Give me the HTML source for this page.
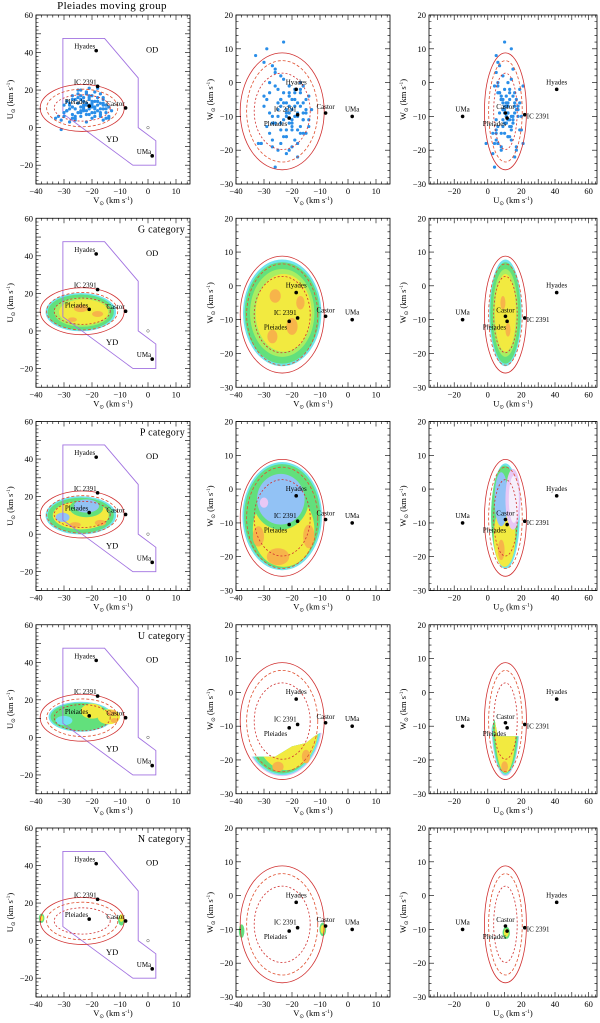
<!DOCTYPE html>
<html><head><meta charset="utf-8"><style>
html,body{margin:0;padding:0;background:#fff;}
svg{display:block;font-family:"Liberation Serif",serif;}
</style></head><body>
<svg id="fig" width="600" height="1023" viewBox="0 0 600 1023" xmlns="http://www.w3.org/2000/svg"></svg>
<script>
// ----- data -----
const rowTitles = ["Pleiades moving group","G category","P category","U category","N category"];
const landmarkNames = ["Hyades","IC 2391","Pleiades","Castor","UMa"];
const landmarkV = [-18.5,-18,-21,-8,1.5];
const landmarkU = [41,22,11.5,10.5,-15];
const landmarkW = [-2,-9.5,-10.5,-9,-10];
const polyV = [-30.4,-15.5,-3.5,-3.5,2.8,2.8,-5.4,-30.4];
const polyU = [47.5,47.5,26.5,0,-7,-20,-20,7.5];
const ellCenter = [-23.5,10.5,-8.5]; // V,U,W
const ellOuter = [15,12.5,17.3];
const ellMiddle = [12.7,10,15];
const ellInner = [10,7,11.3];
const starV = [-33,-31,-30,-29,-28,-28,-27,-27,-26,-26,-25,-25,
-25,-24,-24,-24,-23,-23,-23,-22,-22,-22,-22,-21,
-21,-21,-20,-20,-20,-20,-19,-19,-19,-18,-18,-18,
-17,-17,-17,-16,-16,-16,-15,-15,-14,-14,-13,-31,
-29,-27,-26,-25,-24,-23,-22,-21,-20,-19,-18,-17,
-16,-15,-30,-28,-27,-26,-24,-23,-22,-21,-20,-19,
-18,-17,-16,-32,-30,-29,-28,-27,-25,-24,-23,-22,
-21,-20,-19,-18,-17,-16,-15,-14,-26,-24,-22,-21];
const starU = [5,4,6,9,3,12,7,15,10,5,18,8,
13,20,11,6,16,9,14,19,12,7,3,15,
10,21,17,8,13,5,19,11,14,9,16,12,
7,13,18,10,4,15,8,12,6,11,9,-1,
14,11,4,16,9,12,18,7,14,10,21,6,
13,5,8,10,17,6,15,11,9,17,12,8,
14,10,16,6,12,9,13,5,20,8,10,13,
16,11,6,14,8,12,10,5,15,17,19,12];
const starW = [8,-18,6,-5,-15,0,5,-10,-12,3,-8,-20,
-2,-14,-7,-18,-3,-11,1,-6,-16,-9,-21,-4,
-12,-1,-8,-19,-5,-14,-2,-10,-17,-6,-22,-9,
-3,-13,-7,-15,-1,-11,-5,-9,-13,-4,-8,-18,
10,-12,-25,-6,2,-16,-10,-3,-13,-7,-18,0,
-11,-15,-4,-9,-19,-1,-12,-6,-8,-20,-11,-5,
-14,-2,-9,-18,-7,-13,-3,-17,-10,-5,12,-16,
-7,-12,-3,-10,-15,-6,-8,-11,4,-5,-14,-9];

const C={cy:"#70e4ec",gr:"#62e07c",ye:"#f2ea40",or:"#f7b44a",bl:"#92c2f5",pk:"#e8c8f5",lg:"#a8ee62"};
const blobs = {
 "1-0":[[-24,10,12.6,10.2,C.cy],[-24,10,11.8,9.4,C.gr],[-23.5,10,10,7.8,C.lg],[-23,10,8.8,6.8,C.ye],[-24,12,2.5,2,C.or],[-18,9,2,1.6,C.or],[-27,6,1.6,1.2,C.or]],
 "1-1":[[-23.5,-8,14,15.8,C.cy],[-23.5,-8,13.4,15,C.gr],[-23.5,-8,11.5,13,C.lg],[-23,-8,10,11.5,C.ye],[-26,-3,2,2,C.or],[-20,-12,2,2.5,C.or],[-27,-15,1.8,2,C.or],[-17,-5,1.5,2,C.or]],
 "1-2":[[10.5,-8,9.6,15.8,C.cy],[10.5,-8,9,15,C.gr],[10.5,-8,7.5,13,C.lg],[10.5,-8,6.3,11.5,C.ye],[9,-5,1.5,2,C.or],[12,-13,1.5,2,C.or]],
 "2-0":[[-24,10,12.6,10.2,C.cy],[-24,10,11.8,9.4,C.gr],[-24,10,10,7.5,C.ye],[-22,14,6,5,C.gr],[-22,15,4.5,3.5,C.bl],[-30.5,9,2.5,2.5,C.bl],[-17,6,2,1.6,C.or],[-26,5,2,1.4,C.or]],
 "2-1":[[-23.5,-8,14.2,16,C.cy],[-23.5,-8,13.6,15.4,C.gr],[-23,-12,11,11,C.ye],[-24,-3,10,9,C.gr],[-24,-3,8.5,7.5,C.bl],[-30,-4,1.5,1.5,C.pk],[-25,-20,4,2.5,C.or],[-14,-14,2,3.5,C.or],[-32,-14,2,3,C.or]],
 "2-2":[[10.5,-8,8.5,15.6,C.cy],[10,-8,8,15,C.gr],[10,-14,6.5,9,C.ye],[8,-3,4,8,C.bl],[15,-3,4.5,9,C.pk],[15.5,-3,3,7,"#f6effb"],[8,-18,2,3,C.or]]
};
const uClipV=[-40,-26,-20,-15,-12,-10,-4,-4,-40];
const uClipW=[-19,-19,-16,-15,-13,-12,-12,-30,-30];
const uClipU=[0,4,6,8,10,20,25,25,0];
const uClipW3=[-14,-8,-13,-13,-13,-13,-13,-30,-30];

const NS="http://www.w3.org/2000/svg";
const svg=document.getElementById('fig');
const colX=[[36,190],[236,390],[429,597]];
const colXR=[[-40,15],[-40,15],[-35,65]];
const colYR=[[-30,60],[-30,20],[-30,20]];
const xLab=["V","V","U"], yLab=["U","W","W"];
function mk(tag,attrs,parent){const e=document.createElementNS(NS,tag);for(const k in attrs)e.setAttribute(k,attrs[k]);(parent||svg).appendChild(e);return e;}

for(let r=0;r<5;r++){
 const top=15+r*203.25, bot=top+169;
 for(let c=0;c<3;c++){
  const [x0,x1]=colX[c],[xa,xb]=colXR[c],[ya,yb]=colYR[c];
  const sx=v=>x0+(v-xa)/(xb-xa)*(x1-x0);
  const sy=v=>bot-(v-ya)/(yb-ya)*(bot-top);
  const kx=(x1-x0)/(xb-xa), ky=(bot-top)/(yb-ya);
  const g=mk('g',{});
  
  
  const cid='clip'+r+c;
  const cp=mk('clipPath',{id:cid},g);mk('rect',{x:x0,y:top,width:x1-x0,height:bot-top},cp);
  const plot=mk('g',{'clip-path':'url(#'+cid+')'},g);
  const xi = c===2?1:0, yi = c===0?1:2;
  const lmX=[landmarkV,landmarkU][xi], lmY=[null,landmarkU,landmarkW][yi];
  const key=r+'-'+c;
  let bl=blobs[key];
  if(r===3){
   const clipId='uc'+c;
   const cp2=mk('clipPath',{id:clipId},g);
   if(c===0){ mk('rect',{x:x0,y:top,width:x1-x0,height:bot-top},cp2); bl=[[-24,11,11.5,8,C.cy],[-24,11,10.8,7.4,C.gr],[-20,14,4,4,C.ye],[-14,11,4,4,C.ye],[-13,13,1.5,1.5,C.or],[-12,9,1.3,1.3,C.or],[-30,9,3,2.5,C.cy]]; }
   else {
     const px=c===1?uClipV:uClipU, py=c===1?uClipW:uClipW3;
     mk('polygon',{points:px.map((v,i)=>sx(v)+','+sy(py[i])).join(' ')},cp2);
     bl= c===1?[[-23.5,-8,14.5,16.8,C.pk],[-23.5,-8.5,14,16,C.cy],[-23.5,-9,13.2,15,C.gr],[-22,-9.5,11.5,13.5,C.ye],[-25,-22,2,1.5,C.or],[-15,-19,1.5,2,C.or]]
              :[[10.5,-8,8.5,16.8,C.pk],[10.5,-8.5,8.2,16,C.cy],[10.5,-9,7.6,15,C.gr],[10.5,-10,6.2,13.8,C.ye],[10,-22,2,1.6,C.or]]; }
   const bg=mk('g',{'clip-path':'url(#'+clipId+')'},plot);
   bl.forEach(b=>{const e=mk('ellipse',{cx:sx(b[0]),cy:sy(b[1]),rx:b[2]*kx,ry:b[3]*ky,fill:b[4]},bg);
     });
   bl=null;
  }
  if(r===4){ bl = c===0?[[-38,12,1,2.5,C.gr],[-38,12,0.6,1.5,C.ye],[-9.5,11,1.2,3,C.gr],[-9.5,12,0.8,2,C.ye]]
     : c===1?[[-38,-10.5,1,2,C.gr],[-9,-10,1.2,2,C.gr],[-9,-10,0.8,1.3,C.ye]]
     :[[11,-11,2.2,1.8,C.gr],[11,-11,1.4,1.2,C.ye]]; }
  if(bl) bl.forEach(b=>{const e=mk('ellipse',{cx:sx(b[0]),cy:sy(b[1]),rx:b[2]*kx,ry:b[3]*ky,fill:b[4]},plot);
     });
  if(c===0){
   const pts=polyV.map((v,i)=>sx(v)+','+sy(polyU[i])).join(' ');
   const p=mk('polygon',{points:pts,fill:'none',stroke:'#a070e0','stroke-width':0.9},plot);
   
  }
  if(r===0){
   const xs=[starV,starU][xi], ys=[null,starU,starW][yi];
   xs.forEach((v,i)=>{const d=mk('circle',{cx:sx(v),cy:sy(ys[i]),r:1.6,fill:'#2a8ee8'},plot);
     });
  }
  const ex=ellCenter[xi], ey=ellCenter[yi];
  [[ellOuter,'#d03030',''],[ellMiddle,'#e05030','3,2'],[ellInner,'#d03030','2,2']].forEach(([s,col,da])=>{
   const e=mk('ellipse',{cx:sx(ex),cy:sy(ey),rx:s[xi]*kx,ry:s[yi]*ky,fill:'none',stroke:col,'stroke-width':0.8},plot);
   if(da)e.setAttribute('stroke-dasharray',da);
   
  });
  landmarkNames.forEach((n,i)=>{
   const X=sx(lmX[i]),Y=sy(lmY[i]);
   const d=mk('circle',{cx:X,cy:Y,r:1.8,fill:'#000'},plot);
   
   let tx,ty,anc;
   if(c===0){tx=X-1;ty=Y-2;anc='end';}
   else if(c===1){ const o={Hyades:[0,-5,'middle'],'IC 2391':[-1,-3,'end'],Pleiades:[-2,8,'end'],Castor:[0,-4,'middle'],UMa:[0,-5,'middle']}[n]; tx=X+o[0];ty=Y+o[1];anc=o[2]; }
   else { const o={Hyades:[0,-5,'middle'],'IC 2391':[2,4,'start'],Pleiades:[-1,8,'end'],Castor:[0,-4,'middle'],UMa:[0,-5,'middle']}[n]; tx=X+o[0];ty=Y+o[1];anc=o[2]; }
   const t=mk('text',{x:tx,y:ty,'font-size':7,'text-anchor':anc,fill:'#000'},plot);t.textContent=n;
   
  });
  if(c===0){
   const od=mk('text',{x:sx(1.5),y:sy(40),'font-size':8.5,'text-anchor':'middle'},plot);od.textContent='OD';
   
   const yd=mk('text',{x:sx(-12.8),y:sy(-7.5),'font-size':8.5,'text-anchor':'middle'},plot);yd.textContent='YD';
   
   const sun=mk('circle',{cx:sx(0),cy:sy(0),r:1.3,fill:'none',stroke:'#555','stroke-width':0.5},plot);
   
  }
  const fr=mk('rect',{x:x0,y:top,width:x1-x0,height:bot-top,fill:'none',stroke:'#000','stroke-width':0.8},g);
  
  let tk='';
  for(let v=Math.ceil(xa/2)*2;v<=xb;v+=2){const X=sx(v),L=(v%10===0)?5:2.5;tk+=`M${X},${bot}v${-L}M${X},${top}v${L}`;}
  for(let v=Math.ceil(ya/2)*2;v<=yb;v+=2){const Y=sy(v),L=(v%10===0)?5:2.5;tk+=`M${x0},${Y}h${L}M${x1},${Y}h${-L}`;}
  mk('path',{d:tk,stroke:'#000','stroke-width':0.6,fill:'none'},g);
  const xt=c===2?[-20,0,20,40,60]:[-40,-30,-20,-10,0,10];
  xt.forEach(v=>{const t=mk('text',{x:sx(v),y:bot+10,'font-size':8.5,'text-anchor':'middle'},g);t.textContent=String(v).replace('-','−');
   });
  const yt=c===0?[-20,0,20,40,60]:[-30,-20,-10,0,10,20];
  yt.forEach(v=>{const t=mk('text',{x:x0-3,y:sy(v)+3,'font-size':8.5,'text-anchor':'end'},g);t.textContent=String(v).replace('-','−');
   });
  const xl=mk('text',{x:(x0+x1)/2,y:bot+19,'font-size':8.5,'text-anchor':'middle'},g);
  xl.innerHTML=xLab[c]+'<tspan font-size="5.5" dy="2">⊙</tspan><tspan dy="-2"> (km s</tspan><tspan font-size="5.5" dy="-3">-1</tspan><tspan dy="3">)</tspan>';
  
  const yl=mk('text',{x:0,y:0,'font-size':8.5,'text-anchor':'middle',transform:`translate(${x0-23},${(top+bot)/2}) rotate(-90)`},g);
  yl.innerHTML=yLab[c]+'<tspan font-size="5.5" dy="2">⊙</tspan><tspan dy="-2"> (km s</tspan><tspan font-size="5.5" dy="-3">-1</tspan><tspan dy="3">)</tspan>';
  
  if(c===0){
   const t = r===0 ? mk('text',{x:112,y:9,'font-size':11,'text-anchor':'middle','letter-spacing':'0.4'},g)
                   : mk('text',{x:x1-5,y:top+14,'font-size':10,'text-anchor':'end','letter-spacing':'0.3'},g);
   t.textContent=rowTitles[r];
   
  }
 }
}
</script>
</body></html>
